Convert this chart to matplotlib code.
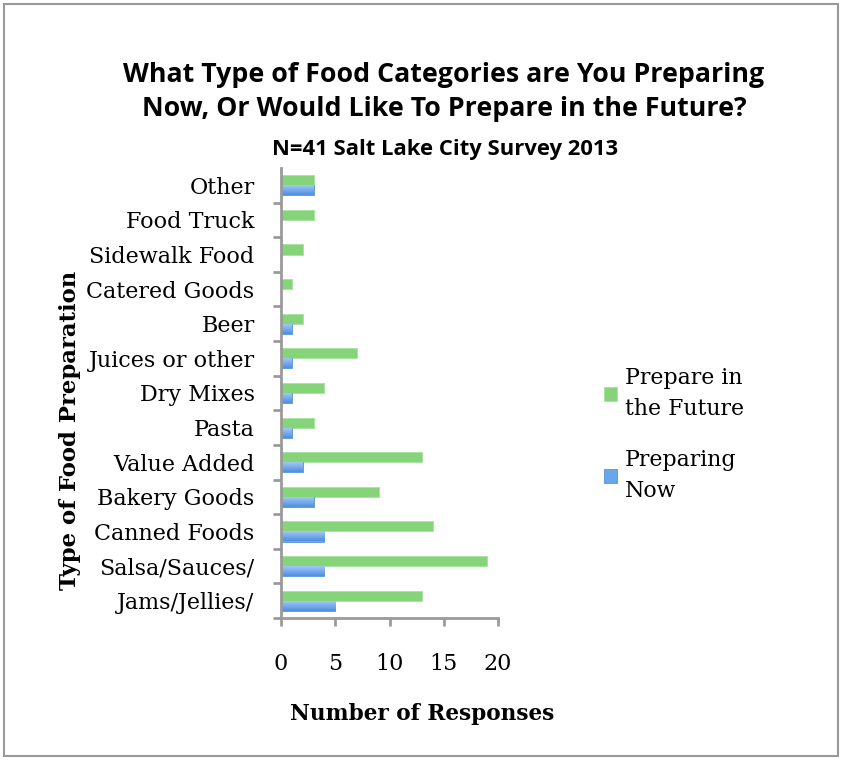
import matplotlib
matplotlib.use("Agg")
import matplotlib.pyplot as plt
import numpy as np
from matplotlib.patches import Rectangle
from matplotlib.colors import LinearSegmentedColormap

categories = ["Jams/Jellies/", "Salsa/Sauces/", "Canned Foods", "Bakery Goods", "Value Added",
              "Pasta", "Dry Mixes", "Juices or other", "Beer", "Catered Goods",
              "Sidewalk Food", "Food Truck", "Other"]
future = [13, 19, 14, 9, 13, 3, 4, 7, 2, 1, 2, 3, 3]
now = [5, 4, 4, 3, 2, 1, 1, 1, 1, 0, 0, 0, 3]
xticks = [0, 5, 10, 15, 20]

SERIF = "DejaVu Serif"
W, H = 842, 760
fig = plt.figure(figsize=(W / 100, H / 100), dpi=100)
fig.patches.append(Rectangle((4 / W, 4 / H), (W - 8) / W, (H - 8) / H, transform=fig.transFigure,
                             fill=False, edgecolor="#9a9a9a", linewidth=1.5))

left, right, top, bottom = 281, 498, 168, 618
ax = fig.add_axes([left / W, 1 - bottom / H, (right - left) / W, (bottom - top) / H])

y = np.arange(len(categories))
h = 0.29
green = "#86d47a"
blue = "#6aa6ec"
ax.barh(y + h / 2, future, height=h, color=green, edgecolor="#a8e19f", linewidth=0.6,
        label="Prepare in\nthe Future")
blue_bars = ax.barh(y - h / 2, now, height=h, color=blue, edgecolor="#5a93d8", linewidth=0.6,
                    label="Preparing\nNow")

# vertical gradient on the blue bars (light top, darker bottom)
cmap = LinearSegmentedColormap.from_list("bg", ["#4f8fe0", "#a9cdf8"])
grad = np.linspace(0, 1, 64).reshape(-1, 1)
for b in blue_bars:
    if b.get_width() <= 0:
        continue
    x0, y0 = b.get_x(), b.get_y()
    im = ax.imshow(grad, cmap=cmap, aspect="auto", origin="lower",
                   extent=(x0, x0 + b.get_width(), y0, y0 + b.get_height()), zorder=b.get_zorder() + 0.1)
    im.set_clip_path(b)

ax.set_ylim(-0.5, len(categories) - 0.5)
ax.set_xlim(0, 20)
ax.set_xticks(xticks)
ax.set_yticks(y)
ax.set_yticklabels(categories, fontsize=16, family=SERIF)
ax.set_yticks(np.arange(-0.5, len(categories) - 0.5, 1), minor=True)
ax.tick_params(axis="y", which="major", length=0, pad=19)
ax.tick_params(axis="y", which="minor", length=6, width=2, color="#9a9a9a", direction="out")
ax.tick_params(axis="x", length=6, width=2, color="#9a9a9a", direction="out", pad=19)
for lbl in ax.get_xticklabels():
    lbl.set_fontsize(16)
    lbl.set_family(SERIF)
for s in ["top", "right"]:
    ax.spines[s].set_visible(False)
for s in ["left", "bottom"]:
    ax.spines[s].set_color("#9a9a9a")
    ax.spines[s].set_linewidth(2)

fig.text(444 / W, 1 - 92 / H, "What Type of Food Categories are You Preparing\nNow, Or Would Like To Prepare in the Future?",
         ha="center", va="center", fontsize=19.3, fontweight="bold", family="Open Sans", linespacing=1.35)
fig.text(445 / W, 1 - 150 / H, "N=41 Salt Lake City Survey 2013", ha="center", va="center",
         fontsize=15.8, fontweight="bold", family="Open Sans")
fig.text(70 / W, 1 - 430 / H, "Type of Food Preparation", rotation=90, ha="center", va="center",
         fontsize=16.4, fontweight="bold", family=SERIF)
fig.text(422 / W, 1 - 714 / H, "Number of Responses", ha="center", va="center",
         fontsize=15.6, fontweight="bold", family=SERIF)

handles, labels = ax.get_legend_handles_labels()
leg = fig.legend(handles, labels, loc="upper left", bbox_to_anchor=(584 / W, 1 - 347 / H),
                 frameon=False, prop={"family": SERIF, "size": 15.8},
                 handlelength=0.6, handleheight=0.6, handletextpad=0.35, labelspacing=1.3)
for t in leg.get_texts():
    t.set_linespacing(1.55)

fig.savefig("out.png", dpi=100)
